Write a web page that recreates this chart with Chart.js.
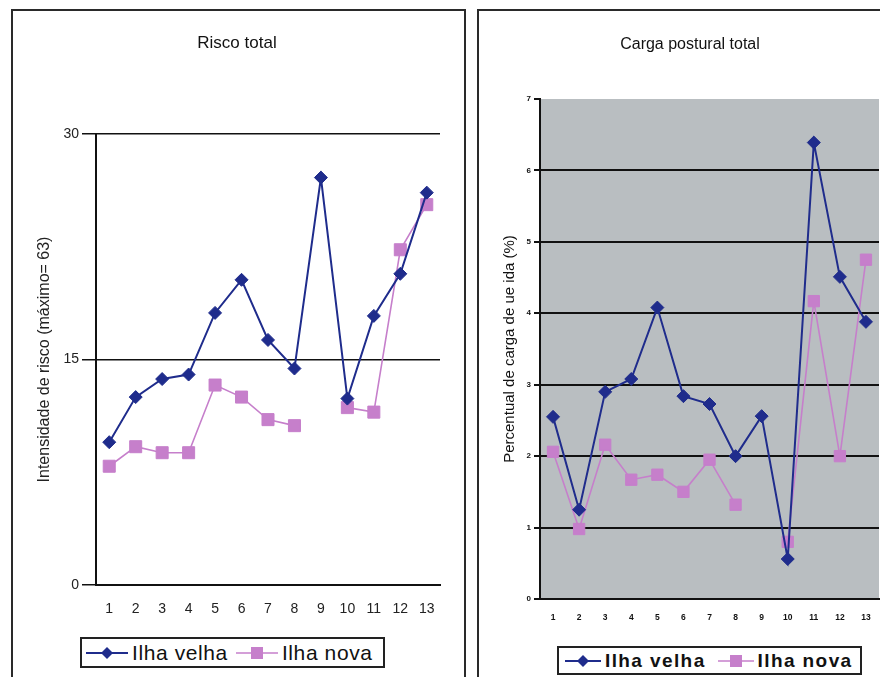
<!DOCTYPE html>
<html>
<head>
<meta charset="utf-8">
<script src="https://cdn.jsdelivr.net/npm/chart.js@4.4.1/dist/chart.umd.min.js"></script>
<style>
  html, body { margin: 0; padding: 0; width: 880px; height: 677px; overflow: hidden; background: #fff;
    font-family: "Liberation Sans", Arial, sans-serif; }
  .panel { position: absolute; border: 2px solid #2a2a2a; box-sizing: border-box; }
  #p1 { left: 11px; top: 9px; width: 455px; height: 720px; }
  #p2 { left: 477px; top: 9px; width: 440px; height: 720px; }
  canvas { position: absolute; }
  #c1 { left: 12px; top: 10px; }
  #c2 { left: 478px; top: 10px; }
  .legend { position: absolute; border: 2px solid #222; box-sizing: border-box; background: #fff;
    display: flex; align-items: center; color: #111; white-space: nowrap; }
  .legend svg { display: block; flex: none; }
  #lg1 { left: 80px; top: 637px; width: 305px; height: 31px; font-size: 21px; letter-spacing: 0.6px; padding-left: 4px; }
  #lg2 { left: 557px; top: 646px; width: 305px; height: 29px; font-size: 19px; letter-spacing: 1.4px; font-weight: bold; padding-left: 6px; }
</style>
</head>
<body>
<div class="panel" id="p1"></div>
<div class="panel" id="p2"></div>
<canvas id="c1" width="453" height="667"></canvas>
<canvas id="c2" width="424" height="667"></canvas>
<div class="legend" id="lg1"></div>
<div class="legend" id="lg2"></div>

<script>
// Workstations 1..13
const categories = ['1','2','3','4','5','6','7','8','9','10','11','12','13'];
const seriesNames = ['Ilha velha', 'Ilha nova'];

// Risco total (intensidade de risco, máximo = 63)
const riscoVelha = [9.5, 12.5, 13.7, 14.0, 18.1, 20.3, 16.3, 14.4, 27.1, 12.4, 17.9, 20.7, 26.1];
const riscoNova  = [7.9, 9.2, 8.8, 8.8, 13.3, 12.5, 11.0, 10.6, null, 11.8, 11.5, 22.3, 25.3];

// Carga postural total (%)
const cargaVelha = [2.55, 1.25, 2.90, 3.08, 4.08, 2.84, 2.73, 2.00, 2.56, 0.56, 6.39, 4.51, 3.88];
const cargaNova  = [2.06, 0.98, 2.16, 1.67, 1.74, 1.50, 1.95, 1.32, null, 0.80, 4.17, 2.00, 4.75];

const BLUE = '#1f2c8c';
const PINK = '#c67fcb';
const FONT = '"Liberation Sans", Arial, sans-serif';

// Fills the plotting area with a flat colour before anything else is drawn
const plotBackground = {
  id: 'plotBackground',
  beforeDraw(chart, args, opts) {
    if (!opts.color) return;
    const { ctx, chartArea: { left, top, width, height } } = chart;
    ctx.save();
    ctx.fillStyle = opts.color;
    ctx.fillRect(left, top, width, height);
    ctx.restore();
  }
};

function makeDatasets(velha, nova, big) {
  return [
    { label: seriesNames[0], data: velha, borderColor: BLUE, backgroundColor: BLUE,
      pointBorderColor: BLUE, pointBackgroundColor: BLUE, borderWidth: 2,
      pointStyle: 'rectRot', pointRadius: 6.5, pointBorderWidth: 1, tension: 0, spanGaps: false },
    { label: seriesNames[1], data: nova, borderColor: PINK, backgroundColor: PINK,
      pointBorderColor: PINK, pointBackgroundColor: PINK, borderWidth: 1.6,
      pointStyle: 'rect', pointRadius: big ? 8.5 : 8, pointBorderWidth: 1, tension: 0, spanGaps: false }
  ];
}

// Left panel: Risco total
new Chart(document.getElementById('c1'), {
  type: 'line',
  data: { labels: categories, datasets: makeDatasets(riscoVelha, riscoNova, true) },
  plugins: [plotBackground],
  options: {
    responsive: false,
    animation: false,
    layout: { padding: { left: 22, right: 25, top: 0, bottom: 52 } },
    plugins: {
      legend: { display: false },
      tooltip: { enabled: false },
      title: { display: true, text: 'Risco total', color: '#111',
        font: { family: FONT, size: 17, weight: 'normal' }, padding: { top: 22.8, bottom: 80.8 } },
      plotBackground: { color: null }
    },
    scales: {
      x: {
        offset: true,
        grid: { display: false, drawTicks: false },
        border: { display: true, color: '#111', width: 2 },
        ticks: { color: '#222', font: { family: FONT, size: 14 }, padding: 16, maxRotation: 0 },
        afterFit(s) { s.height = 40; }
      },
      y: {
        min: 0, max: 30,
        ticks: { stepSize: 15, color: '#222', font: { family: FONT, size: 14 }, padding: 3 },
        grid: { color: '#111', lineWidth: 1.5, tickLength: 14, tickColor: '#111' },
        border: { display: true, color: '#111', width: 2 },
        title: { display: true, text: 'Intensidade de risco (máximo= 63)', color: '#222',
          font: { family: FONT, size: 16 }, padding: { top: 1.4, bottom: 0 } },
        afterFit(s) { s.width = 62; }
      }
    }
  }
});

// Right panel: Carga postural total
new Chart(document.getElementById('c2'), {
  type: 'line',
  data: { labels: categories, datasets: makeDatasets(cargaVelha, cargaNova, false) },
  plugins: [plotBackground],
  options: {
    responsive: false,
    animation: false,
    layout: { padding: { left: 23, right: 23, top: 0, bottom: 38 } },
    plugins: {
      legend: { display: false },
      tooltip: { enabled: false },
      title: { display: true, text: 'Carga postural total', color: '#111',
        font: { family: FONT, size: 16, weight: 'normal' }, padding: { top: 25.4, bottom: 44.4 } },
      plotBackground: { color: '#b9bec1' }
    },
    scales: {
      x: {
        offset: true,
        grid: { display: false, drawTicks: false },
        border: { display: true, color: '#111', width: 2 },
        ticks: { color: '#111', font: { family: FONT, size: 8.5, weight: 'bold' }, padding: 14, maxRotation: 0 },
        afterFit(s) { s.height = 40; }
      },
      y: {
        min: 0, max: 7,
        ticks: { stepSize: 1, color: '#111', font: { family: FONT, size: 8, weight: 'bold' }, padding: 3 },
        grid: {
          color: ctx => (ctx.tick && ctx.tick.value === 7) ? 'rgba(0,0,0,0)' : '#111',
          tickColor: '#111', lineWidth: 2, tickLength: 6
        },
        border: { display: true, color: '#111', width: 2 },
        title: { display: true, text: 'Percentual de carga de ue ida (%)', color: '#111',
          font: { family: FONT, size: 15 }, padding: { top: 0, bottom: 0 } },
        afterFit(s) { s.width = 39; }
      }
    }
  }
});

// Legend boxes with a line-and-marker swatch for each series
function swatch(color, shape, w, lw) {
  const mid = w / 2;
  const mark = shape === 'diamond'
    ? `<polygon points="${mid},1 ${mid + 6},7 ${mid},13 ${mid - 6},7" fill="${color}"/>`
    : `<rect x="${mid - 6}" y="1" width="12" height="12" fill="${color}"/>`;
  return `<svg width="${w}" height="14" viewBox="0 0 ${w} 14"><line x1="0" y1="7" x2="${w}" y2="7" stroke="${color}" stroke-width="${lw}"/>${mark}</svg>`;
}
function buildLegend(id, gapAfterText, swW) {
  const el = document.getElementById(id);
  const shapes = ['diamond', 'square'];
  const colors = [BLUE, PINK];
  el.innerHTML = seriesNames.map((n, i) =>
    `${swatch(colors[i], shapes[i], swW, i === 0 ? 2 : 1.6)}<span style="margin-left:4px;margin-right:${gapAfterText}px">${n}</span>`
  ).join('');
}
buildLegend('lg1', 8, 42);
buildLegend('lg2', 12, 36);
</script>
</body>
</html>
